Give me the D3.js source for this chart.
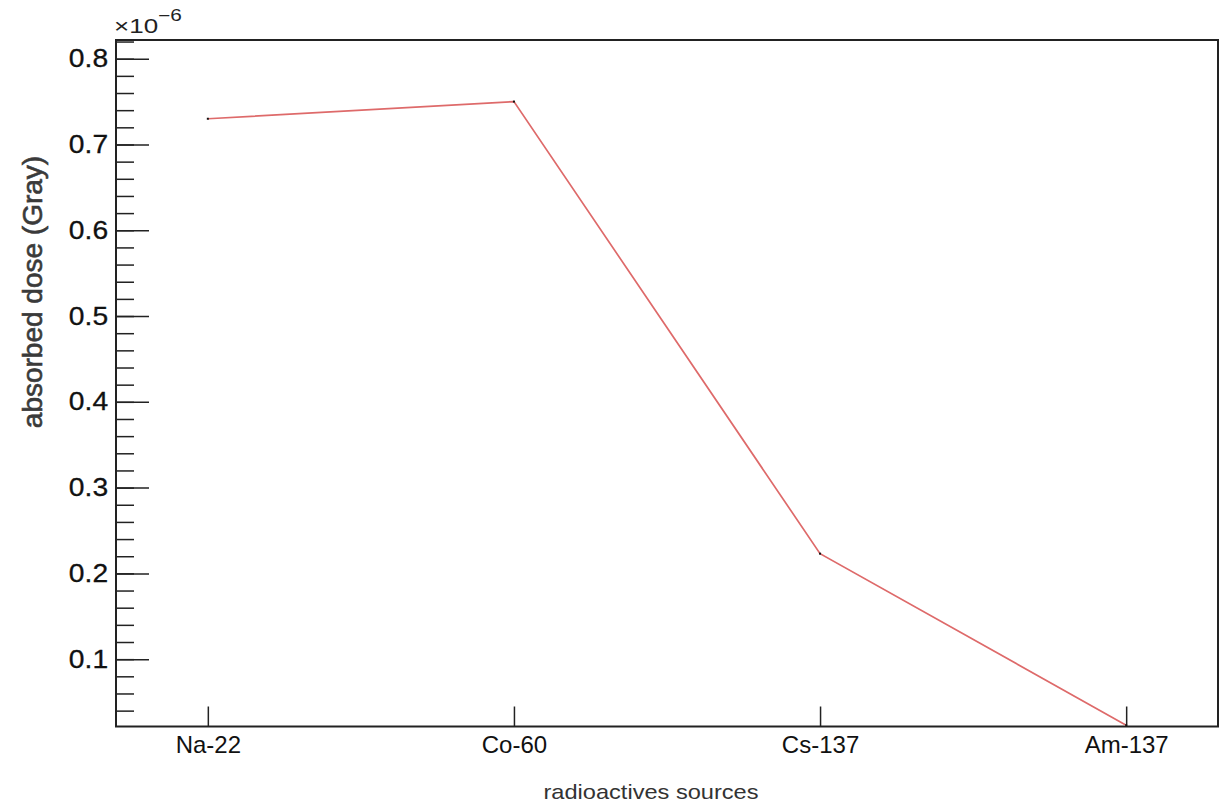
<!DOCTYPE html>
<html>
<head>
<meta charset="utf-8">
<script src="https://cdn.jsdelivr.net/npm/d3@7"></script>
<style>
  body { margin: 0; background: #fff; }
  text { font-family: "Liberation Sans", Arial, sans-serif; }
</style>
</head>
<body>
<svg id="lineChart"></svg>
<script>
// data (absorbed dose in units of 1e-6 Gy)
const sources = ['Na-22', 'Co-60', 'Cs-137', 'Am-137'];
const doses = [0.730, 0.750, 0.223, 0.023];
const yMajorTicks = [0.1, 0.2, 0.3, 0.4, 0.5, 0.6, 0.7, 0.8];
const yMinorTicks = d3.range(0.04, 0.83, 0.02);

const svgWidth = 1228;
const svgHeight = 804;
const frame = { left: 116, top: 40, right: 1218, bottom: 726.5 };

const svg = d3.select('#lineChart')
  .attr('width', svgWidth)
  .attr('height', svgHeight);

const xScale = d3.scaleLinear()
  .domain([-0.3, sources.length - 1 + 0.3])
  .range([frame.left, frame.right]);
const yScale = d3.scaleLinear()
  .domain([0.0215, 0.8218])
  .range([frame.bottom, frame.top]);

// minor y ticks
svg.append('g')
  .attr('transform', `translate(${frame.left}, 0)`)
  .call(d3.axisLeft(yScale).tickValues(yMinorTicks).tickSize(-18).tickFormat(''))
  .call(g => g.select('.domain').remove())
  .call(g => g.selectAll('line').attr('stroke', '#222').attr('stroke-width', 1.5));

// major y ticks + labels
svg.append('g')
  .attr('transform', `translate(${frame.left}, 0)`)
  .call(d3.axisLeft(yScale).tickValues(yMajorTicks).tickSize(-33).tickPadding(7).tickFormat(d3.format('.1f')))
  .call(g => g.select('.domain').remove())
  .call(g => g.selectAll('line').attr('stroke', '#222').attr('stroke-width', 1.5))
  .call(g => g.selectAll('text')
    .attr('font-size', 25)
    .attr('fill', '#111')
    .attr('stroke', '#111')
    .attr('stroke-width', 0.3)
    .attr('transform', 'scale(1.13,1)'));

// x axis, ticks pointing up
svg.append('g')
  .attr('transform', `translate(0, ${frame.bottom})`)
  .call(d3.axisBottom(xScale)
    .tickValues(d3.range(sources.length))
    .tickSize(-20)
    .tickFormat(i => sources[i]))
  .call(g => g.select('.domain').remove())
  .call(g => g.selectAll('line').attr('stroke', '#222').attr('stroke-width', 1.5))
  .call(g => g.selectAll('text')
    .attr('y', 9)
    .attr('font-size', 24)
    .attr('fill', '#111'));

// frame
svg.append('rect')
  .attr('x', frame.left)
  .attr('y', frame.top)
  .attr('width', frame.right - frame.left)
  .attr('height', frame.bottom - frame.top)
  .attr('fill', 'none')
  .attr('stroke', '#222')
  .attr('stroke-width', 2);

// the graph
const line = d3.line()
  .x((d, i) => xScale(i))
  .y(d => yScale(d));

svg.append('path')
  .datum(doses)
  .attr('d', line)
  .attr('fill', 'none')
  .attr('stroke', '#de6a6a')
  .attr('stroke-width', 1.7);

svg.selectAll('.pt')
  .data(doses)
  .enter()
  .append('rect')
    .attr('class', 'pt')
    .attr('x', (d, i) => xScale(i) - 1)
    .attr('y', d => yScale(d) - 1)
    .attr('width', 2)
    .attr('height', 2)
    .attr('fill', '#111');

// exponent
const expo = svg.append('text')
  .attr('transform', 'translate(114, 33) scale(1.3,1)')
  .attr('fill', '#222')
  .style('font-size', '20px');
expo.append('tspan').text('\u00d710');
expo.append('tspan')
  .attr('dy', -12)
  .style('font-size', '16px')
  .text('\u22126');

// axis titles
svg.append('text')
  .attr('transform', 'translate(651, 799) scale(1.18,1)')
  .attr('text-anchor', 'middle')
  .attr('font-size', 20)
  .attr('fill', '#333')
  .text('radioactives sources');

svg.append('text')
  .attr('transform', 'translate(42, 292) rotate(-90)')
  .attr('text-anchor', 'middle')
  .attr('font-size', 28)
  .attr('fill', '#3a3a3a')
  .attr('stroke', '#3a3a3a')
  .attr('stroke-width', 0.6)
  .text('absorbed dose (Gray)');
</script>
</body>
</html>
